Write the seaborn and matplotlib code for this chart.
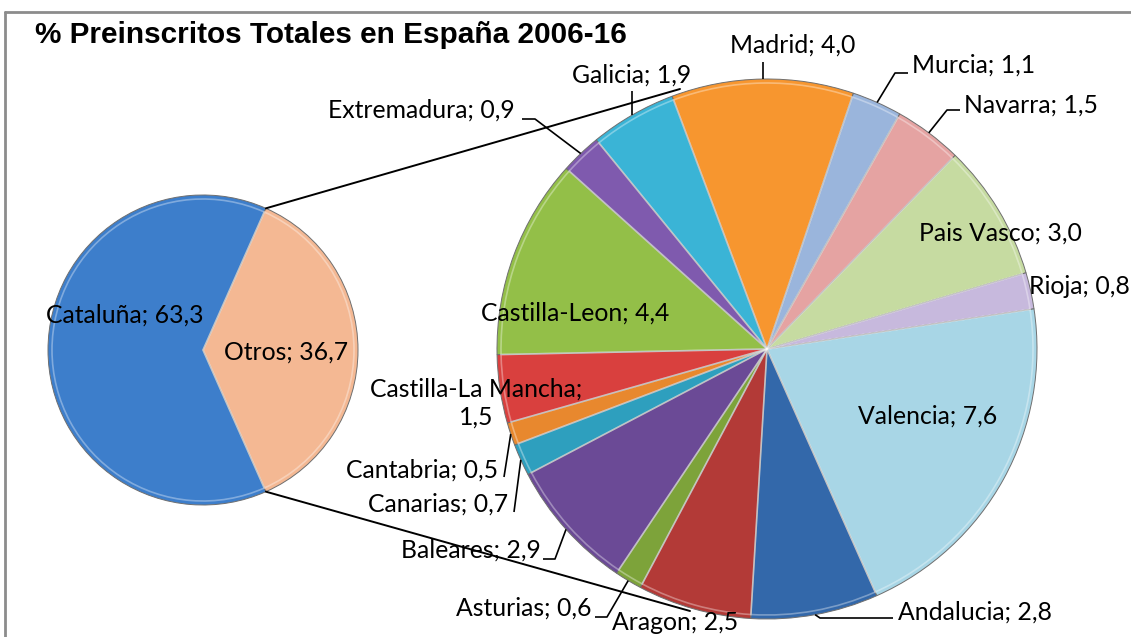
import matplotlib
matplotlib.use("Agg")
import matplotlib.pyplot as plt
import numpy as np
import seaborn as sns

# ---------------- data ----------------
main_labels = ["Cataluña", "Otros"]
main_values = [63.3, 36.7]

sub_labels = ["Andalucia", "Aragon", "Asturias", "Baleares", "Canarias",
              "Cantabria", "Castilla-La Mancha", "Castilla-Leon", "Extremadura",
              "Galicia", "Madrid", "Murcia", "Navarra", "Pais Vasco", "Rioja",
              "Valencia"]
sub_values = [2.8, 2.5, 0.6, 2.9, 0.7, 0.5, 1.5, 4.4, 0.9, 1.9, 4.0, 1.1, 1.5,
              3.0, 0.8, 7.6]

title = "% Preinscritos Totales en España 2006-16"

# ---------------- style ----------------
sns.set_theme(style="white")
plt.rcParams["font.family"] = ["Lato", "DejaVu Sans"]

main_colors = ["#3D7ECB", "#F4B893"]
sub_colors = ["#3368AA", "#B33A37", "#7DA33A", "#6B4A96", "#2E9FBE",
              "#E8882E", "#D9403E", "#93BF48", "#7F5AAE", "#3AB4D6",
              "#F7962F", "#9AB5DC", "#E5A3A2", "#C6DBA1", "#C7B9DD",
              "#A8D6E6"]

W, H = 1131, 637
fig = plt.figure(figsize=(W / 100, H / 100), dpi=100)
ax = fig.add_axes([0, 0, 1, 1])


def Y(y):
    return H - y


# pie geometry (pixel layout)
c1 = (203, Y(350)); r1 = 155
c2 = (767, Y(349)); r2 = 270

wp = dict(edgecolor="#6f6f6f", linewidth=0.7)
otros_span = main_values[1] / sum(main_values) * 360
ax.pie(main_values, colors=main_colors, startangle=-otros_span / 2,
       counterclock=False, center=c1, radius=r1, wedgeprops=wp)
sub_start = -66
ax.pie(sub_values, colors=sub_colors, startangle=sub_start,
       counterclock=False, center=c2, radius=r2, wedgeprops=wp)

# subtle inner highlight ring to mimic bevel
ax.pie(sub_values, colors=["none"] * len(sub_values), startangle=sub_start,
       counterclock=False, center=c2, radius=r2 - 4,
       wedgeprops=dict(edgecolor=(1, 1, 1, 0.35), linewidth=1.2, fill=False))
ax.pie(main_values, colors=["none"] * 2, startangle=-otros_span / 2,
       counterclock=False, center=c1, radius=r1 - 4,
       wedgeprops=dict(edgecolor=(1, 1, 1, 0.35), linewidth=1.2, fill=False))


def fmt(name, v):
    return f"{name}; {v:.1f}".replace(".", ",")


# mid angles of the sub pie wedges
cum = np.cumsum([0] + sub_values[:-1])
tot = sum(sub_values)
mids = {n: sub_start - (c + v / 2) / tot * 360
        for n, c, v in zip(sub_labels, cum, sub_values)}


def edge(name, rr=r2):
    a = np.deg2rad(mids[name])
    return c2[0] + rr * np.cos(a), c2[1] + rr * np.sin(a)


FS = 17.8
# label layout: (x, y, ha, elbow points in image coords)
layout = {
    "Madrid": (793, 45, "center", [(None, 62)]),
    "Galicia": (632, 75, "center", [(None, 91)]),
    "Extremadura": (515, 110, "right", [(535, 119), (522, 119)]),
    "Murcia": (912, 65, "left", [(895, 73), (908, 73)]),
    "Navarra": (964, 105, "left", [(947, 110), (960, 110)]),
    "Pais Vasco": (1000, 233, "center", None),
    "Rioja": (1029, 287, "left", None),
    "Valencia": (928, 416, "center", None),
    "Andalucia": (898, 612, "left", [(820, 618), (893, 618)]),
    "Aragon": (675, 622, "center", None),
    "Asturias": (591, 608, "right", [(607, 617), (595, 617)]),
    "Baleares": (541, 550, "right", [(555, 559), (543, 559)]),
    "Canarias": (508, 504, "right", [(514, 512)]),
    "Cantabria": (498, 470, "right", [(504, 477)]),
    "Castilla-Leon": (575, 313, "center", None),
}

for name, v in zip(sub_labels, sub_values):
    if name == "Castilla-La Mancha":
        ax.text(476, Y(403), f"{name};\n" + f"{v:.1f}".replace(".", ","),
                ha="center", va="center", fontsize=FS, color="black",
                linespacing=1.25, zorder=6)
        continue
    x, y, ha, elbow = layout[name]
    ax.text(x, Y(y), fmt(name, v), ha=ha, va="center", fontsize=FS,
            color="black", zorder=6)
    if elbow:
        ex, ey = edge(name)
        xs, ys = [ex], [ey]
        for px, py in elbow:
            xs.append(ex if px is None else px)
            ys.append(Y(py))
        ax.plot(xs, ys, color="black", lw=1.2, zorder=7,
                solid_capstyle="butt")

ax.text(125, Y(315), fmt(main_labels[0], main_values[0]), ha="center",
        va="center", fontsize=FS, color="black", zorder=6)
ax.text(286, Y(352), fmt(main_labels[1], main_values[1]), ha="center",
        va="center", fontsize=FS, color="black", zorder=6)

# connector lines between the two pies
a = np.deg2rad(otros_span / 2)
p_top = (c1[0] + r1 * np.cos(a), c1[1] + r1 * np.sin(a))
p_bot = (c1[0] + r1 * np.cos(a), c1[1] - r1 * np.sin(a))
ax.plot([p_top[0], 680], [p_top[1], Y(89)], color="black", lw=1.4, zorder=8)
ax.plot([p_bot[0], 690], [p_bot[1], Y(611)], color="black", lw=1.4, zorder=8)

# title
ax.text(35, Y(35), title, ha="left", va="center", fontsize=21.4,
        fontweight="bold", family=["Liberation Sans", "DejaVu Sans"],
        color="black", zorder=9)

# chart border (top and left visible)
ax.plot([5, W], [Y(12), Y(12)], color="#8c8c8c", lw=2, zorder=10)
ax.plot([5, 5], [Y(12), 0], color="#8c8c8c", lw=2, zorder=10)

ax.set_xlim(0, W)
ax.set_ylim(0, H)
ax.set_aspect("equal")
ax.axis("off")

fig.savefig("out.png", dpi=100, facecolor="white")
